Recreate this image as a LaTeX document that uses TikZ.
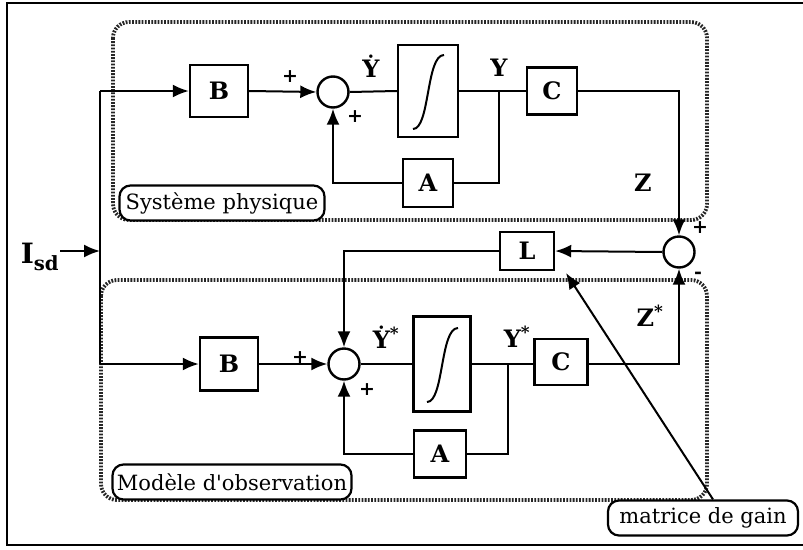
\documentclass[tikz,border=0pt]{standalone}
\usepackage{fontspec}
\setmainfont{DejaVu Serif}
\usetikzlibrary{arrows.meta}

\tikzset{
  blk/.style={draw, line width=2.4pt, inner sep=0pt, font=\fontsize{24}{24}\selectfont\bfseries},
  summ/.style={draw, circle, line width=2.4pt, minimum size=31pt, inner sep=0pt},
  lbl/.style={font=\fontsize{24}{24}\selectfont\bfseries, inner sep=0pt},
  sgn/.style={font=\fontsize{19}{19}\selectfont\bfseries, inner sep=0pt},
  tag/.style={draw, fill=white, rounded corners=11pt, line width=2.2pt, inner xsep=3pt,
    minimum height=35pt, font=\fontsize{21}{21}\selectfont},
  zone/.style={draw=black!85, line width=3.8pt, dash pattern=on 1.8pt off 1.4pt, rounded corners=16pt},
  arr/.style={-{Latex[length=16pt,width=13pt]}},
}

\begin{document}
\begin{tikzpicture}[x=1pt, y=-1pt, line width=2pt]
  \useasboundingbox (0,0) rectangle (803,549);
  \draw[line width=2.6pt] (803,3) -- (7,3) -- (7,545) -- (803,545);

  % zones
  \draw[zone] (113,22) rectangle (707,220);
  \draw[zone] (101,280) rectangle (707,500);

  % systeme physique
  \node[blk, minimum width=58pt, minimum height=52pt] (B1) at (219,91) {B};
  \node[summ] (sum1) at (333,92) {};
  \node[blk, minimum width=60pt, minimum height=92pt] (int1) at (428,91) {};
  \node[blk, minimum width=50pt, minimum height=47pt] (C1) at (552,91) {C};
  \node[blk, minimum width=50pt, minimum height=48pt] (A1) at (428,183) {A};
  \coordinate (j1) at (499,92);

  % observateur
  \node[blk, minimum width=58pt, minimum height=53pt] (B2) at (229,364) {B};
  \node[summ] (sum2) at (344,364) {};
  \node[blk, minimum width=57pt, minimum height=95pt] (int2) at (442,364) {};
  \node[blk, minimum width=53pt, minimum height=46pt] (C2) at (561,362) {C};
  \node[blk, minimum width=52pt, minimum height=47pt] (A2) at (440,454) {A};
  \coordinate (j2) at (508,364);

  % erreur et gain
  \node[summ] (sum3) at (679,252) {};
  \node[blk, minimum width=54pt, minimum height=38pt] (L) at (527,251) {L};

  % entree
  \node[lbl, font=\fontsize{28}{28}\selectfont\bfseries] (isd) at (40,257) {I\textsubscript{sd}};
  \coordinate (in) at (100,251);
  \coordinate (s1) at (100,91);
  \coordinate (s2) at (100,364);

  \foreach \n in {int1,int2}
    \draw ([shift={(-15,38)}]\n.center) .. controls ([shift={(2,38)}]\n.center)
      and ([shift={(-2,-36)}]\n.center) .. ([shift={(16,-36)}]\n.center);

  \draw[arr] (isd.east |- in) -- (in);
  \draw (s1) -- (s2);
  \draw[arr] (s1) -- (B1.west);
  \draw[arr] (s2) -- (B2.west);

  \draw[arr] (B1.east) -- (sum1.west);
  \draw (sum1.east) -- (int1.west);
  \draw (int1.east) -- (C1.west);
  \draw (j1) |- (A1.east);
  \draw[arr] (A1.west) -| (sum1.south);
  \draw[arr] (C1.east) -| (sum3.north);

  \draw[arr] (B2.east) -- (sum2.west);
  \draw (sum2.east) -- (int2.west);
  \draw (int2.east) -- (C2.west |- j2);
  \draw (j2) |- (A2.east);
  \draw[arr] (A2.west) -| (sum2.south);
  \draw[arr] (C2.east |- j2) -| (sum3.south);

  \draw[arr] (sum3.west) -- (L.east);
  \draw[arr] (L.west) -| (sum2.north);

  % signes et grandeurs
  \node[sgn] (p1) at (290,77) {+};
  \node[sgn] (p2) at (355,117) {+};
  \node[sgn] (p3) at (300,358) {+};
  \node[sgn] (p4) at (367,390) {+};
  \node[sgn] (p5) at (700,228) {+};
  \node[sgn] (m5) at (698,275) {-};
  \node[lbl] (yd1) at (371,66) {\.{Y}};
  \node[lbl] (y1) at (499,68) {Y};
  \node[lbl] (z1) at (643,183) {Z};
  \node[lbl] (yd2) at (386,337) {\.{Y}\textsuperscript{*}};
  \node[lbl] (y2) at (517,337) {Y\textsuperscript{*}};
  \node[lbl] (z2) at (650,316) {Z\textsuperscript{*}};

  % etiquettes
  \node[tag, minimum width=205pt] (phys) at (222,203) {Système physique};
  \node[tag, minimum width=239pt] (obs) at (232,482) {Modèle d\textquotesingle observation};
  \node[tag, minimum width=190pt] (gain) at (703,518) {matrice de gain};
  \coordinate (tipL) at (566,273);
  \draw[arr] ([xshift=10pt]gain.north) -- (tipL);
\end{tikzpicture}
\end{document}
